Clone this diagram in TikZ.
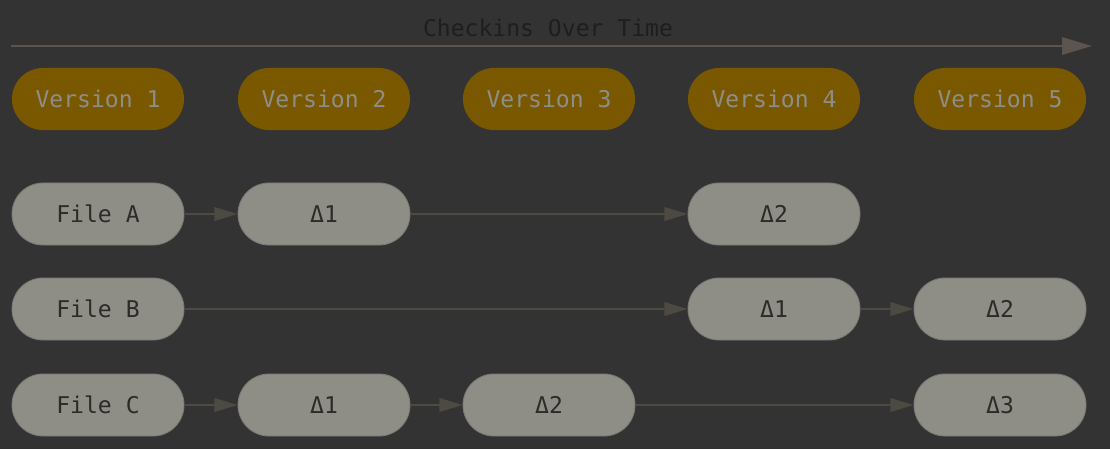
\documentclass[tikz,border=0pt]{standalone}
\usepackage{fontspec}
\setmonofont{DejaVu Sans Mono}
\usetikzlibrary{arrows.meta}
\definecolor{bgdark}{HTML}{333333}
\definecolor{versionfill}{HTML}{7A5800}
\definecolor{versiontext}{HTML}{8E8E88}
\definecolor{filefill}{HTML}{8E8E87}
\definecolor{filetext}{HTML}{2B2B28}
\definecolor{linkcol}{HTML}{4D4A44}
\definecolor{timecol}{HTML}{5B544F}
\definecolor{titlecol}{HTML}{1E1E1E}

\begin{document}
\begin{tikzpicture}
  [x=0.025cm,y=-0.025cm,
   every node/.style={font=\fontsize{16.4}{20}\selectfont\ttfamily,inner sep=0pt},
   pill/.style={rectangle,rounded corners=0.775cm,minimum width=4.3cm,minimum height=1.55cm},
   version/.style={pill,fill=versionfill,text=versiontext},
   filebox/.style={pill,fill=filefill,draw=filefill!85!black,line width=0.6pt,text=filetext},
   link/.style={draw=linkcol,line width=1.3pt,-{Triangle[length=0.58cm,width=0.34cm]}}]
  \fill[bgdark] (0,0) rectangle (1110,449);
  \useasboundingbox (0,0) rectangle (1110,449);

  \node[text=titlecol] (title) at (548,28) {Checkins Over Time};
  \coordinate (t0) at (11,46);
  \coordinate (t1) at (1092,46);
  \draw[timecol,line width=2pt,-{Triangle[length=0.75cm,width=0.43cm]}] (t0) -- (t1);

  \node[version] (v1) at (98,99) {Version 1};
  \node[version] (v2) at (324,99) {Version 2};
  \node[version] (v3) at (549,99) {Version 3};
  \node[version] (v4) at (774,99) {Version 4};
  \node[version] (v5) at (1000,99) {Version 5};

  \node[filebox] (fa) at (98,214) {File A};
  \node[filebox] (a1) at (324,214) {Δ1};
  \node[filebox] (a2) at (774,214) {Δ2};

  \node[filebox] (fb) at (98,309) {File B};
  \node[filebox] (b1) at (774,309) {Δ1};
  \node[filebox] (b2) at (1000,309) {Δ2};

  \node[filebox] (fc) at (98,405) {File C};
  \node[filebox] (c1) at (324,405) {Δ1};
  \node[filebox] (c2) at (549,405) {Δ2};
  \node[filebox] (c3) at (1000,405) {Δ3};

  \foreach \from/\to in {fa/a1,a1/a2,fb/b1,b1/b2,fc/c1,c1/c2,c2/c3}
    \draw[link] (\from) -- (\to);
\end{tikzpicture}
\end{document}
